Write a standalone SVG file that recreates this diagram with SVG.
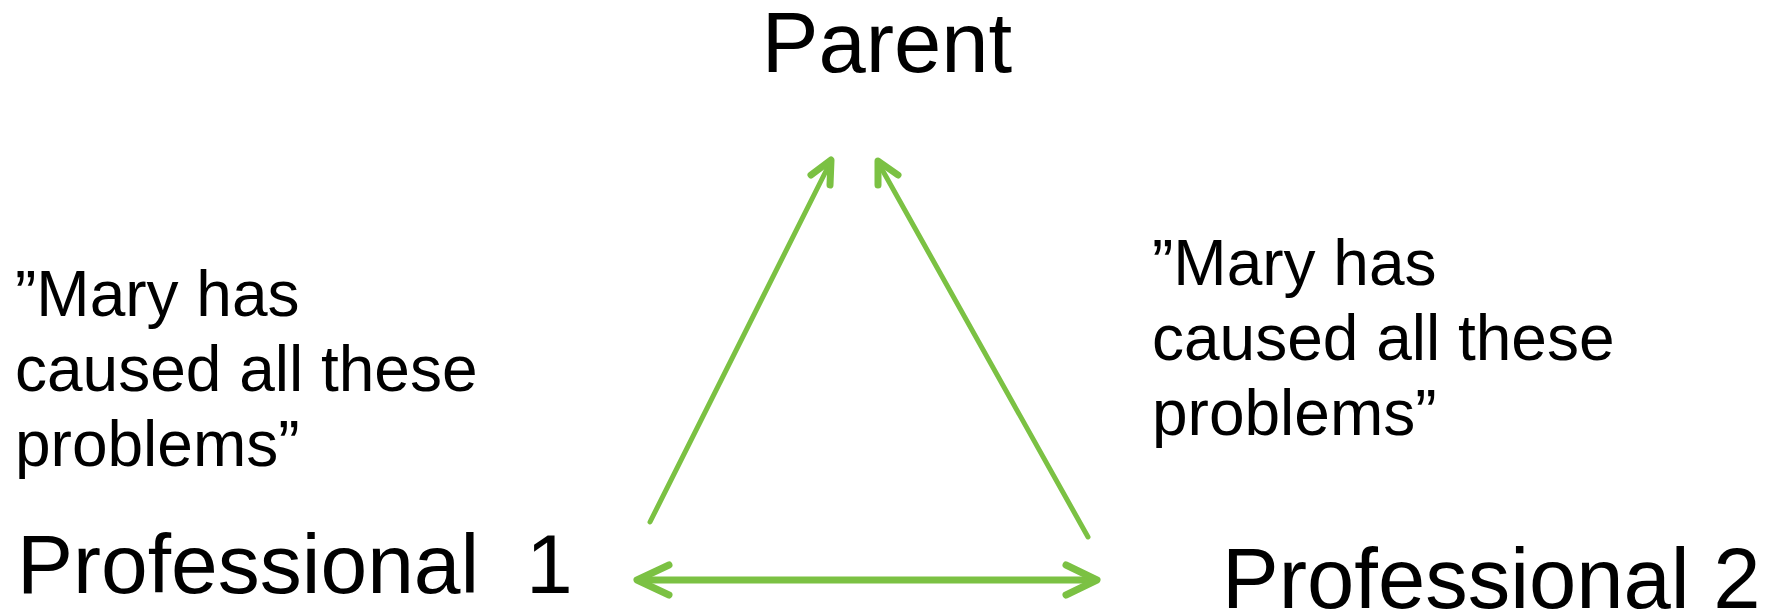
<svg xmlns="http://www.w3.org/2000/svg" width="1777" height="613" viewBox="0 0 1777 613">
<style>
.t{font-family:"Liberation Sans",Arial,sans-serif;fill:#000}
.q{font-size:64px}
.c{stroke:#7BC143;fill:none;stroke-linecap:round;stroke-linejoin:round}
</style>
<rect width="1777" height="613" fill="#fff"/>
<g id="parent"><text class="t" x="887" y="72" font-size="85" text-anchor="middle">Parent</text></g>
<g id="professional1"><text class="t" x="17" y="593" font-size="84" xml:space="preserve">Professional  1</text></g>
<g id="professional2"><text class="t" x="1222" y="608" font-size="85">Professional 2</text></g>
<g id="quote-left"><text class="t q"><tspan x="15" y="316">”Mary has</tspan><tspan x="15" y="391">caused all these</tspan><tspan x="15" y="466">problems”</tspan></text></g>
<g id="quote-right"><text class="t q"><tspan x="1152" y="285">”Mary has</tspan><tspan x="1152" y="360">caused all these</tspan><tspan x="1152" y="435">problems”</tspan></text></g>
<g id="connectors">
<line class="c" x1="650" y1="522" x2="830" y2="163" stroke-width="5" stroke-linecap="butt"/>
<polyline class="c" points="811,175 831,160 830,185" stroke-width="7"/>
<line class="c" x1="1088" y1="537" x2="879" y2="164" stroke-width="5" stroke-linecap="butt"/>
<polyline class="c" points="878,185 878,161 898,175" stroke-width="7"/>
<line class="c" x1="640" y1="580" x2="1094" y2="580" stroke-width="7"/>
<polyline class="c" points="669,565 637,580 669,595" stroke-width="7"/>
<polyline class="c" points="1066,565 1097,580 1066,595" stroke-width="7"/>
</g>
</svg>
